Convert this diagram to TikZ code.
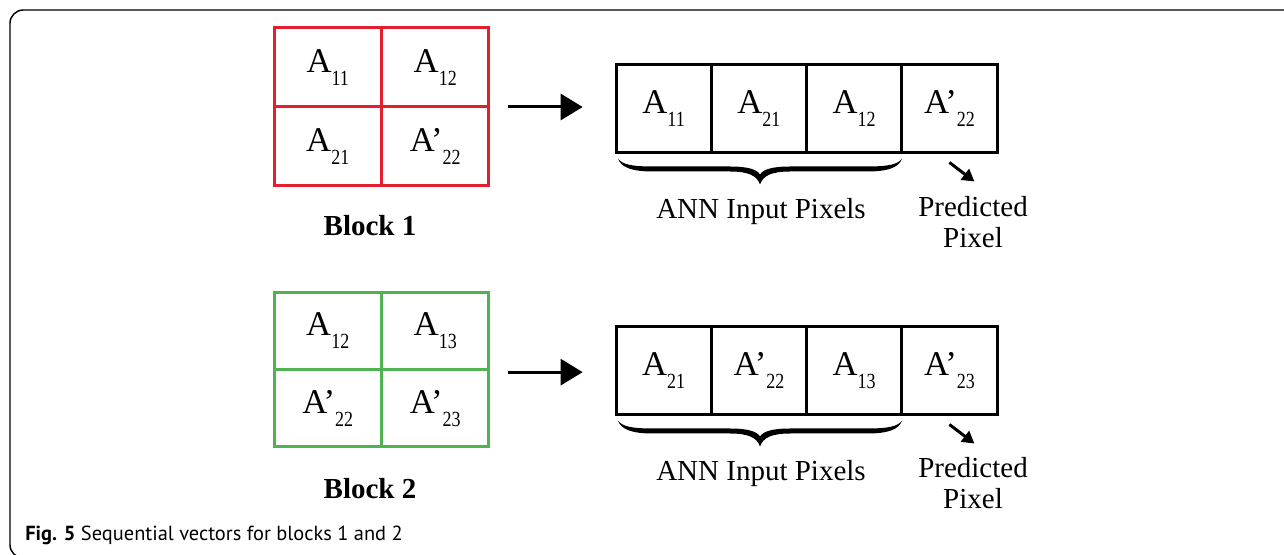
\documentclass[tikz,border=0pt]{standalone}
\usepackage{fontspec}
\setmainfont{Liberation Serif}
\newfontfamily\capfont{PT Sans}
\usetikzlibrary{arrows.meta}
\definecolor{blockred}{RGB}{228,30,45}
\definecolor{blockgreen}{RGB}{80,178,80}
% pixel label: letter with a lowered, slightly tall index
\newcommand{\pix}[2]{#1\raisebox{-9.5pt}{\scalebox{1}[1.2]{\fontsize{13.5}{13.5}\selectfont #2}}}
% curly brace under the input cells, width 284 (drawing units), tip pointing down
\newcommand{\inputbrace}{%
  \fill (0,0) .. controls (4,6) and (14,8) .. (35,8) -- (112,8)
    .. controls (130,8) and (139,11) .. (142,16)
    .. controls (145,11) and (154,8) .. (172,8) -- (249,8)
    .. controls (270,8) and (280,6) .. (284,0)
    .. controls (281,9) and (270,13) .. (249,13) -- (172,13)
    .. controls (154,13) and (145,17) .. (142,26)
    .. controls (139,17) and (130,13) .. (112,13) -- (35,13)
    .. controls (14,13) and (3,9) .. (0,0) -- cycle;}
\begin{document}
\begin{tikzpicture}[x=0.75pt,y=-0.75pt,
  cellbox/.style={draw, line width=2.25pt, inner sep=0pt, outer sep=0pt,
    font=\fontsize{26}{26}\selectfont},
  redcell/.style={cellbox, draw=blockred, minimum width=80.6pt, minimum height=59.25pt},
  greencell/.style={cellbox, draw=blockgreen, minimum width=80.6pt, minimum height=58.1pt},
  veccell/.style={cellbox, draw=black, minimum width=71.4pt, minimum height=66pt},
  blocklabel/.style={font=\fontsize{21.75}{21.75}\selectfont\bfseries, inner sep=0pt},
  notelabel/.style={font=\fontsize{21.75}{23}\selectfont, inner sep=0pt, align=center},
  bigarrow/.style={line width=2.25pt, -{Triangle[length=16.5pt,width=19.5pt]}},
  smallarrow/.style={line width=2.25pt, -{Triangle[length=9pt,width=10pt]}},
]
\useasboundingbox (0,0) rectangle (1284,555);
\clip (0,0) rectangle (1284,555);

% outer frame, open to the right and below
\draw[line width=1.1pt, rounded corners=10pt] (1300,10) -- (10,10) -- (10,558) -- (1300,558);

% ---- block 1 ----
\node[redcell] (r11) at (327.75,67.5) {\pix{A}{11}};
\node[redcell] (r12) at (435.25,67.5) {\pix{A}{12}};
\node[redcell] (r21) at (327.75,146.5) {\pix{A}{21}};
\node[redcell] (r22) at (435.25,146.5) {\pix{A’}{22}};
\node[blocklabel] (b1) at (370,226) {Block 1};

\node[veccell] (v11) at (663.6,108.5) {\pix{A}{11}};
\node[veccell] (v12) at (758.9,108.5) {\pix{A}{21}};
\node[veccell] (v13) at (854.1,108.5) {\pix{A}{12}};
\node[veccell] (v14) at (949.4,108.5) {\pix{A’}{22}};

\draw[bigarrow] ([xshift=14pt]r12.south east) -- ([xshift=-25pt]v11.west |- r12.south east);
\begin{scope}[shift={(v11.south west)}, shift={(2,6)}]
  \inputbrace
\end{scope}
\node[notelabel] (in1) at (761,212) {ANN Input Pixels};
\node[notelabel] (pr1) at (973,222) {Predicted\\Pixel};
\coordinate (a1s) at ([yshift=-7.5pt]v14.south);
\coordinate (a1e) at ([xshift=18.75pt,yshift=-21.75pt]v14.south);
\draw[smallarrow] (a1s) -- (a1e);

% ---- block 2 ----
\node[greencell] (g11) at (327.75,330.75) {\pix{A}{12}};
\node[greencell] (g12) at (435.25,330.75) {\pix{A}{13}};
\node[greencell] (g21) at (327.75,408.25) {\pix{A’}{22}};
\node[greencell] (g22) at (435.25,408.25) {\pix{A’}{23}};
\node[blocklabel] (b2) at (370,489) {Block 2};

\node[veccell] (w11) at (663.6,370.5) {\pix{A}{21}};
\node[veccell] (w12) at (758.9,370.5) {\pix{A’}{22}};
\node[veccell] (w13) at (854.1,370.5) {\pix{A}{13}};
\node[veccell] (w14) at (949.4,370.5) {\pix{A’}{23}};

\draw[bigarrow] ([xshift=14pt,yshift=-2pt]g12.south east) -- ([xshift=-25pt,yshift=-2pt]w11.west |- g12.south east);
\begin{scope}[shift={(w11.south west)}, shift={(2,6)}]
  \inputbrace
\end{scope}
\node[notelabel] (in2) at (761,474) {ANN Input Pixels};
\node[notelabel] (pr2) at (973,483) {Predicted\\Pixel};
\coordinate (a2s) at ([yshift=-7.5pt]w14.south);
\coordinate (a2e) at ([xshift=18.75pt,yshift=-21.75pt]w14.south);
\draw[smallarrow] (a2s) -- (a2e);

% caption
\node[anchor=west, inner sep=0pt, font=\capfont\fontsize{15.3}{15.3}\selectfont] (cap) at (25,535)
  {\textbf{Fig. 5} Sequential vectors for blocks 1 and 2};
\end{tikzpicture}
\end{document}
